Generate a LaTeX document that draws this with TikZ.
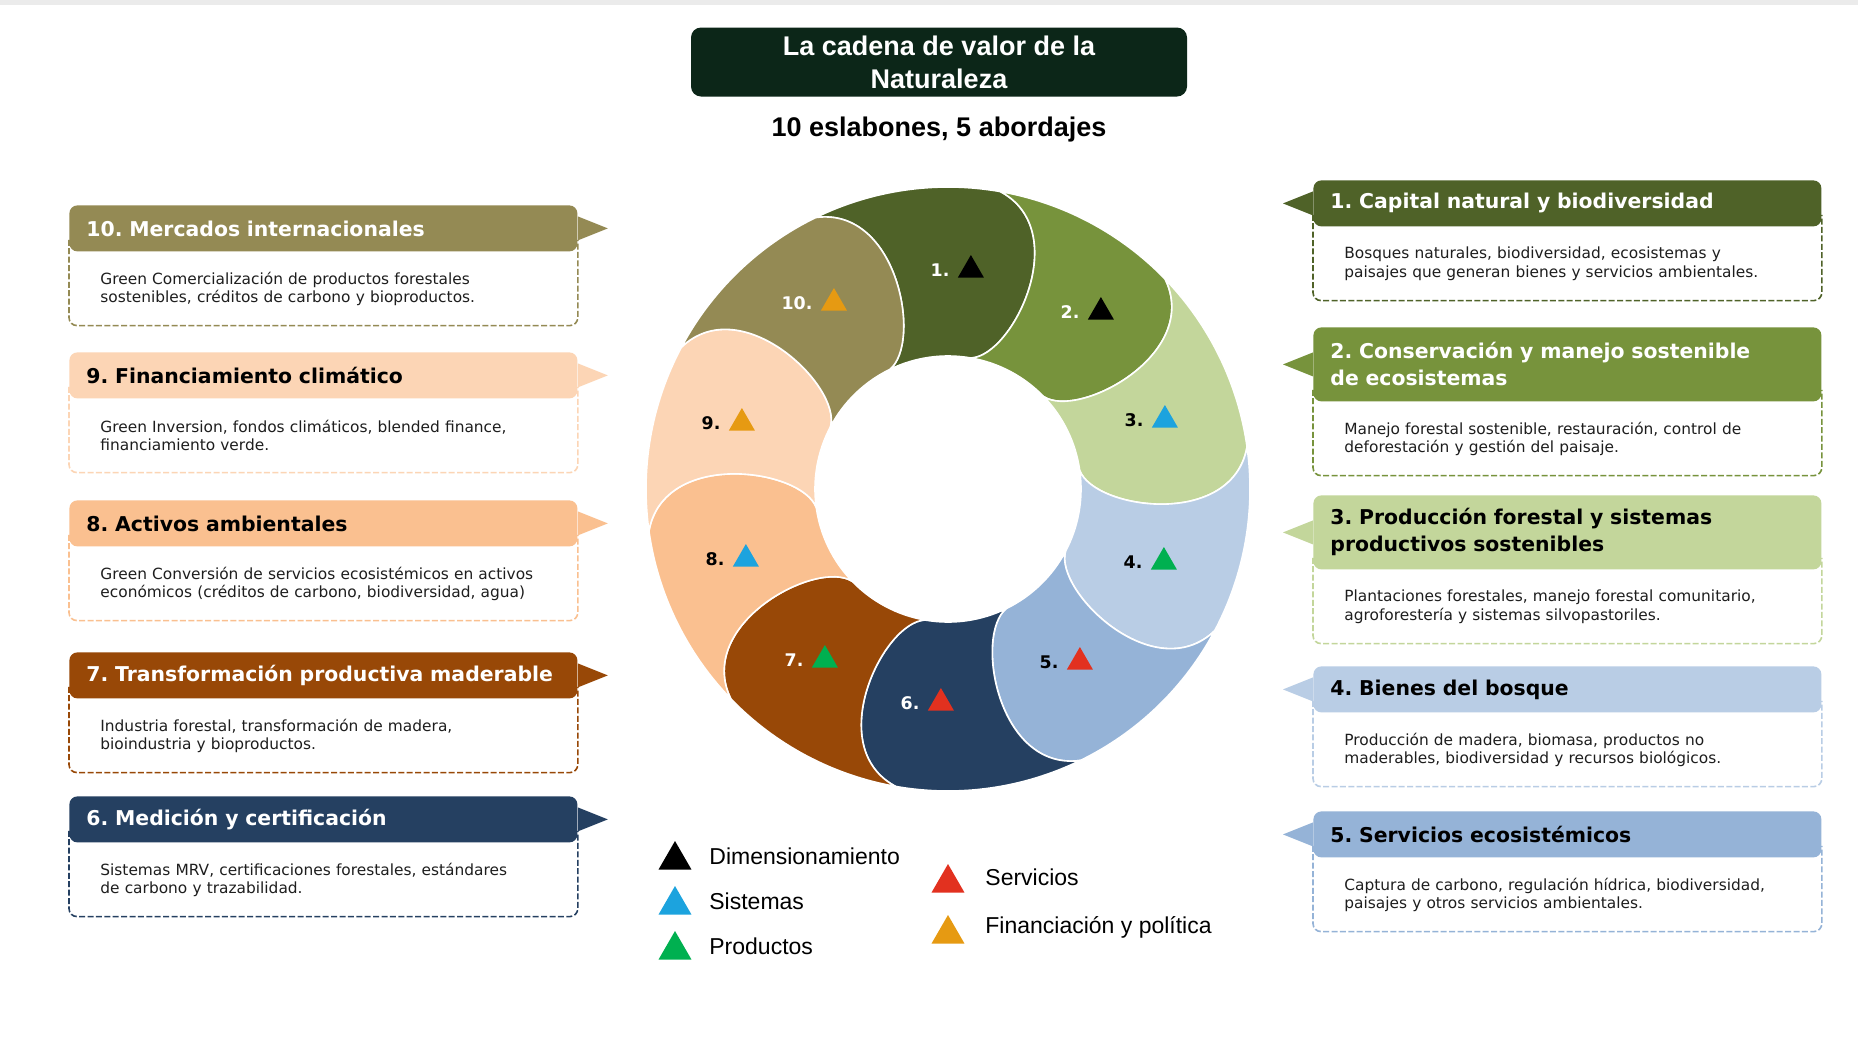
\documentclass[tikz,border=0pt]{standalone}
\usepackage{fontspec}
\setmainfont{Liberation Sans}
\newfontfamily\dejavu{DejaVu Sans}
\usepackage{tikz}
\usetikzlibrary{positioning}
\usetikzlibrary{shapes.geometric}
\usepackage{xcolor}
\frenchspacing
\definecolor{eslabonA}{HTML}{4F6228}
\definecolor{eslabonB}{HTML}{77933C}
\definecolor{eslabonC}{HTML}{C3D69B}
\definecolor{eslabonD}{HTML}{B9CDE5}
\definecolor{eslabonE}{HTML}{95B3D7}
\definecolor{eslabonF}{HTML}{254061}
\definecolor{eslabonG}{HTML}{984807}
\definecolor{eslabonH}{HTML}{FAC090}
\definecolor{eslabonI}{HTML}{FCD5B5}
\definecolor{eslabonJ}{HTML}{948A54}
\definecolor{verdetitulo}{HTML}{0C2618}
\definecolor{triazul}{HTML}{1CA3DE}
\definecolor{triverde}{HTML}{00B050}
\definecolor{trirojo}{HTML}{E2311F}
\definecolor{trinaranja}{HTML}{E69A12}
\definecolor{textogris}{HTML}{1E1E1E}
\newcommand\cajaizq[7]{
	\node[encabezado, fill=#3, text=#4, minimum height=#5, anchor=north west] (h#1) at (69,#2) {#6};
	\node[cuerpo, below=0pt of h#1] (c#1) {#7};
	\draw[borde, draw=#3] ([yshift=6pt]h#1.south west) -- (c#1.south west) -- (c#1.south east) -- ([yshift=6pt]h#1.south east);
	\fill[#3] ([yshift=6pt]h#1.east) -- ++(15pt,-6pt) -- ([yshift=-6pt]h#1.east) -- cycle;
}
\newcommand\cajader[7]{
	\node[encabezado, fill=#3, text=#4, minimum height=#5, anchor=north west] (h#1) at (1313,#2) {#6};
	\node[cuerpo, below=0pt of h#1] (c#1) {#7};
	\draw[borde, draw=#3] ([yshift=6pt]h#1.south west) -- (c#1.south west) -- (c#1.south east) -- ([yshift=6pt]h#1.south east);
	\fill[#3] ([yshift=6pt]h#1.west) -- ++(-15pt,-6pt) -- ([yshift=-6pt]h#1.west) -- cycle;
}

\begin{document}
\begin{tikzpicture}[x=0.5pt, y=-0.5pt,
	encabezado/.style={rounded corners=4pt, minimum width=254pt, text width=237pt, inner xsep=8.5pt, inner ysep=2pt, align=left, font=\dejavu\bfseries\fontsize{10.2}{13.5}\selectfont},
	cuerpo/.style={minimum width=254pt, text width=223pt, inner xsep=15.5pt, minimum height=36.5pt, align=left, text=textogris, font=\dejavu\fontsize{7.7}{9.2}\selectfont},
	borde/.style={line width=0.8pt, dash pattern=on 3pt off 1.2pt, rounded corners=4pt},
	etiq/.style={inner sep=1pt, font=\dejavu\bfseries\fontsize{8.7}{10}\selectfont},
	triang/.style={regular polygon, regular polygon sides=3, minimum size=15pt, inner sep=0pt},
	legtri/.style={regular polygon, regular polygon sides=3, minimum size=19pt, inner sep=0pt},
	leyenda/.style={anchor=west, inner sep=0pt, font=\fontsize{11.5}{13}\selectfont}]
	\useasboundingbox (0,0) rectangle (1858,1061);
	\fill[white] (0,0) rectangle (1858,1061);
	\fill[black!8] (0,0) rectangle (1858,5);

	\node[fill=verdetitulo, rounded corners=5pt, minimum width=248pt, minimum height=34.5pt, text=white, align=center, font=\bfseries\fontsize{13.5}{16.5}\selectfont] (titulo) at (939,62) {La cadena de valor de la\\Naturaleza};
	\node[font=\bfseries\fontsize{13.5}{16}\selectfont] (subtitulo) at (939,130) {10 eslabones, 5 abordajes};

	\begin{scope}[shift={(948,489)}, yscale=-1]
		\foreach \k/\col in {1/eslabonA, 2/eslabonB, 3/eslabonC, 4/eslabonD, 5/eslabonE, 6/eslabonF, 7/eslabonG, 8/eslabonH, 9/eslabonI, 10/eslabonJ} {
			\pgfmathsetmacro\a{116-36*(\k-1)}
			\pgfmathsetmacro\b{\a-36}
			\fill[\col, draw=white, line width=0.8pt] (\a:302) arc[start angle=\a, end angle=\b, radius=302]
				.. controls ({\b-16}:287) and ({\b-16}:148) .. (\b:133)
				arc[start angle=\b, end angle=\a, radius=133]
				.. controls ({\a-16}:148) and ({\a-16}:287) .. (\a:302) -- cycle;
		}
	\end{scope}

	\foreach \k/\x/\y/\tc/\tri in {1/940/270/white/black, 2/1070/312/white/black, 3/1134/420/black/triazul, 4/1133/562/black/triverde, 5/1049/662/black/trirojo, 6/910/703/white/trirojo, 7/794/660/white/triverde, 8/715/559/black/triazul, 9/711/423/black/trinaranja, 10/797/303/white/trinaranja} {
		\node[etiq, text=\tc] (n\k) at (\x,\y) {\k.};
		\node[triang, fill=\tri, right=5pt of n\k] (t\k) {};
	}

	\cajaizq{10}{205}{eslabonJ}{white}{23pt}{10. Mercados internacionales}{Green Comercialización de productos forestales\\sostenibles, créditos de carbono y bioproductos.}
	\cajaizq{9}{352}{eslabonI}{black}{23pt}{9. Financiamiento climático}{Green Inversion, fondos climáticos, blended finance,\\financiamiento verde.}
	\cajaizq{8}{500}{eslabonH}{black}{23pt}{8. Activos ambientales}{Green Conversión de servicios ecosistémicos en activos\\económicos (créditos de carbono, biodiversidad, agua)}
	\cajaizq{7}{652}{eslabonG}{white}{23pt}{7. Transformación productiva maderable}{Industria forestal, transformación de madera,\\bioindustria y bioproductos.}
	\cajaizq{6}{796}{eslabonF}{white}{23pt}{6. Medición y certificación}{Sistemas MRV, certificaciones forestales, estándares\\de carbono y trazabilidad.}

	\cajader{1}{180}{eslabonA}{white}{23pt}{1. Capital natural y biodiversidad}{Bosques naturales, biodiversidad, ecosistemas y\\paisajes que generan bienes y servicios ambientales.}
	\cajader{2}{327}{eslabonB}{white}{37pt}{2. Conservación y manejo sostenible\\de ecosistemas}{Manejo forestal sostenible, restauración, control de\\deforestación y gestión del paisaje.}
	\cajader{3}{495}{eslabonC}{black}{37pt}{3. Producción forestal y sistemas\\productivos sostenibles}{Plantaciones forestales, manejo forestal comunitario,\\agroforestería y sistemas silvopastoriles.}
	\cajader{4}{666}{eslabonD}{black}{23pt}{4. Bienes del bosque}{Producción de madera, biomasa, productos no\\maderables, biodiversidad y recursos biológicos.}
	\cajader{5}{811}{eslabonE}{black}{23pt}{5. Servicios ecosistémicos}{Captura de carbono, regulación hídrica, biodiversidad,\\paisajes y otros servicios ambientales.}

	\node[legtri, fill=black] (l1) at (675,860) {};
	\node[leyenda] (lt1) at (709,856) {Dimensionamiento};
	\node[legtri, fill=triazul] (l2) at (675,905) {};
	\node[leyenda] (lt2) at (709,901) {Sistemas};
	\node[legtri, fill=triverde] (l3) at (675,950) {};
	\node[leyenda] (lt3) at (709,946) {Productos};
	\node[legtri, fill=trirojo] (l4) at (948,883) {};
	\node[leyenda] (lt4) at (985,877) {Servicios};
	\node[legtri, fill=trinaranja] (l5) at (948,934) {};
	\node[leyenda] (lt5) at (985,927) {Financiación y política};
\end{tikzpicture}
\end{document}
